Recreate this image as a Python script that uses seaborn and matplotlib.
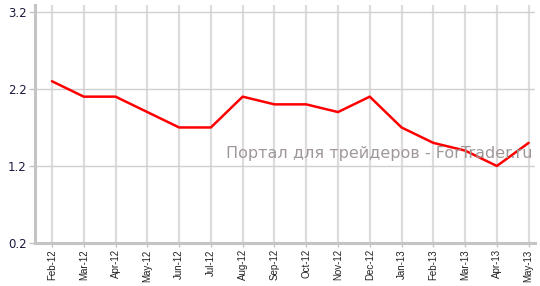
import matplotlib
matplotlib.use("Agg")
import matplotlib.pyplot as plt
import seaborn as sns
import pandas as pd

months = ["Feb-12", "Mar-12", "Apr-12", "May-12", "Jun-12", "Jul-12", "Aug-12", "Sep-12",
          "Oct-12", "Nov-12", "Dec-12", "Jan-13", "Feb-13", "Mar-13", "Apr-13", "May-13"]
values = [2.3, 2.1, 2.1, 1.9, 1.7, 1.7, 2.1, 2.0, 2.0, 1.9, 2.1, 1.7, 1.5, 1.4, 1.2, 1.5]
yticks = [0.2, 1.2, 2.2, 3.2]

sns.set_style("white")
plt.rcParams['font.family'] = ['Liberation Sans', 'DejaVu Sans']

df = pd.DataFrame({"idx": range(len(months)), "value": values})

fig = plt.figure(figsize=(5.4, 2.86), dpi=100)
ax = fig.add_axes([35/540, 1 - 243/286, (535-35)/540, (243-5)/286])

sns.lineplot(data=df, x="idx", y="value", ax=ax, color="#ff0000", linewidth=1.8)

ax.set_xlim(-0.535, 15.2)
ax.set_ylim(0.2, 3.29)
ax.set_xticks(range(len(months)))
ax.set_xticklabels(months, rotation=90, fontsize=7.0, color="#222222")
ax.set_yticks(yticks)
ax.set_yticklabels([f"{v:.1f}" for v in yticks], fontsize=8.5, color="#1a1a40",
                   family="DejaVu Sans")
ax.set_xlabel("")
ax.set_ylabel("")

ax.grid(True, axis="x", color="#dcdcdc", linewidth=1.6)
ax.grid(True, axis="y", color="#d0d0d0", linewidth=1.0)
ax.set_axisbelow(True)

for s in ["top", "right"]:
    ax.spines[s].set_visible(False)
for s in ["left", "bottom"]:
    ax.spines[s].set_color("#c4c4c4")
    ax.spines[s].set_linewidth(2.2)

ax.tick_params(axis="y", length=4, width=1, color="#c4c4c4", pad=2, left=True)
ax.tick_params(axis="x", length=3, width=1, color="#c4c4c4", pad=1.5, bottom=True)

ax.text(0.995, 0.378, "Портал для трейдеров - ForTrader.ru", transform=ax.transAxes,
        ha="right", va="center", fontsize=11.5, color="#a09898", family="DejaVu Sans")

fig.savefig("out.png", dpi=100)
